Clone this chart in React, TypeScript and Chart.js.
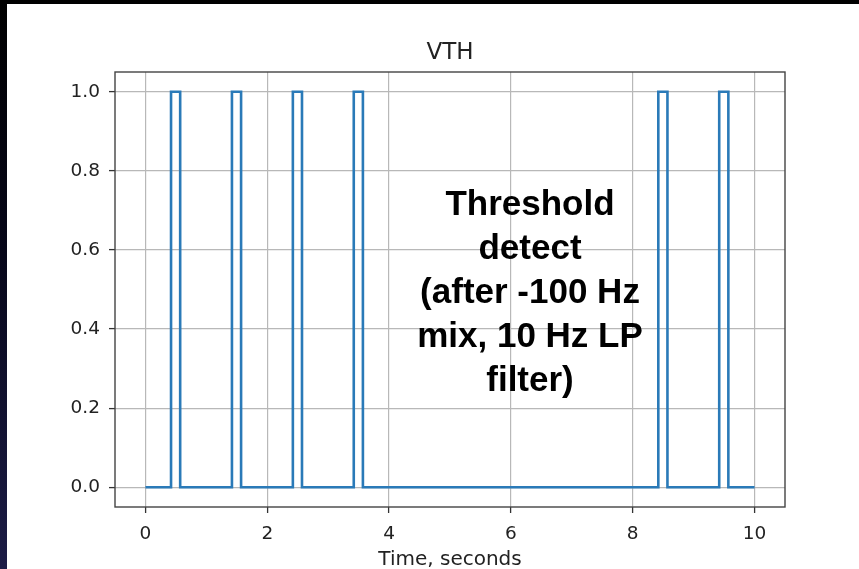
import { useEffect, useRef } from "react";
import { Chart, registerables } from "chart.js";

Chart.register(...registerables);

// Thresholded detector output: each entry marks the time a new level is reached.
const times = [0, 0.42, 0.57, 1.42, 1.57, 2.42, 2.57, 3.42, 3.57, 8.42, 8.57, 9.42, 9.57, 10];
const vth = [0, 1, 0, 1, 0, 1, 0, 1, 0, 1, 0, 1, 0, 0];

const xTicks = [0, 2, 4, 6, 8, 10];
const yTicks = [0, 0.2, 0.4, 0.6, 0.8, 1.0];

const titleText = "VTH";
const xLabel = "Time, seconds";
const noteLines = ["Threshold", "detect", "(after -100 Hz", "mix, 10 Hz LP", "filter)"];

const CANVAS_W = 852;
const CANVAS_H = 565;

export default function App() {
  const ref = useRef<HTMLCanvasElement>(null);

  useEffect(() => {
    const canvas = ref.current;
    if (!canvas) return;

    const decor = {
      id: "decor",
      afterDraw(chart: any) {
        const { ctx, chartArea: a } = chart;
        ctx.save();
        // full box frame around the plot area
        ctx.strokeStyle = "#444";
        ctx.lineWidth = 1.4;
        ctx.strokeRect(a.left, a.top, a.right - a.left, a.bottom - a.top);

        const cx = (a.left + a.right) / 2;
        ctx.textAlign = "center";
        ctx.textBaseline = "alphabetic";
        ctx.fillStyle = "#222";
        ctx.font = '23px "DejaVu Sans"';
        ctx.fillText(titleText, cx, a.top - 13);
        ctx.font = '20px "DejaVu Sans"';
        ctx.fillText(xLabel, cx, a.bottom + 58);

        ctx.fillStyle = "#000";
        ctx.font = 'bold 35px "Liberation Sans"';
        const nx = a.left + 415;
        noteLines.forEach((line, i) => ctx.fillText(line, nx, a.top + 143 + i * 44));
        ctx.restore();
      },
    };

    const tickFont = { family: "DejaVu Sans", size: 18.5 };
    const grid = {
      color: "#b8b8b8",
      lineWidth: 1.2,
      tickColor: "#333",
      tickLength: 6,
      tickWidth: 1.3,
    };

    const chart = new Chart(canvas, {
      type: "line",
      data: {
        datasets: [
          {
            data: times.map((t, i) => ({ x: t, y: vth[i] })),
            borderColor: "#2a7ab8",
            borderWidth: 2.6,
            pointRadius: 0,
            stepped: "before",
            fill: false,
            borderJoinStyle: "miter",
          },
        ],
      },
      options: {
        animation: false,
        responsive: false,
        devicePixelRatio: 1,
        layout: { padding: { top: 68, right: 74, left: 0, bottom: 0 } },
        plugins: {
          legend: { display: false },
          tooltip: { enabled: false },
          title: { display: false },
        },
        scales: {
          x: {
            type: "linear",
            min: -0.5,
            max: 10.5,
            afterBuildTicks: (s: any) => {
              s.ticks = xTicks.map((v) => ({ value: v }));
            },
            afterFit: (s: any) => {
              s.height = 62;
            },
            ticks: {
              font: tickFont,
              color: "#222",
              padding: 10,
              maxRotation: 0,
              autoSkip: false,
              callback: (v: any) => String(v),
            },
            grid,
            border: { display: false },
          },
          y: {
            type: "linear",
            min: -0.05,
            max: 1.05,
            afterBuildTicks: (s: any) => {
              s.ticks = yTicks.map((v) => ({ value: v }));
            },
            afterFit: (s: any) => {
              s.width = 108;
            },
            ticks: {
              font: tickFont,
              color: "#222",
              padding: 9,
              autoSkip: false,
              callback: (v: any) => Number(v).toFixed(1),
            },
            grid,
            border: { display: false },
          },
        },
      } as any,
      plugins: [decor],
    });

    return () => chart.destroy();
  }, []);

  return (
    <div
      style={{
        position: "fixed",
        inset: 0,
        background: "linear-gradient(to bottom, #000 0%, #07071a 45%, #1c1c46 100%)",
      }}
    >
      <div
        style={{
          position: "absolute",
          left: 7,
          top: 4,
          width: CANVAS_W,
          height: CANVAS_H,
          background: "#fff",
        }}
      >
        <canvas ref={ref} width={CANVAS_W} height={CANVAS_H} style={{ display: "block" }} />
      </div>
    </div>
  );
}
